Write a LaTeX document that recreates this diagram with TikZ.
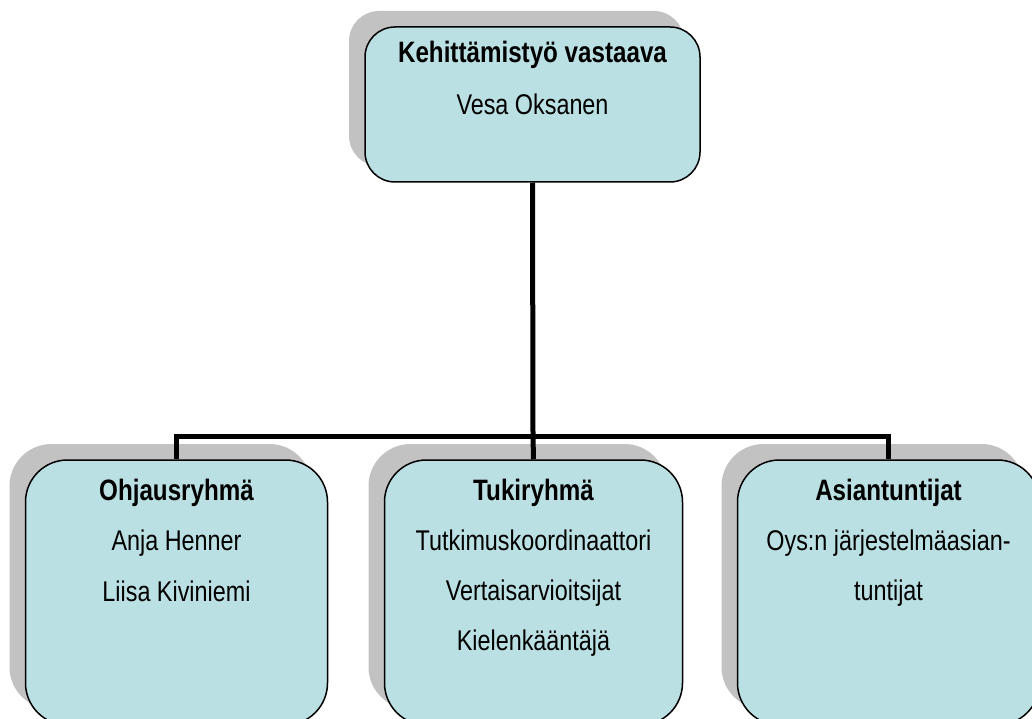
\documentclass[tikz,border=0pt]{standalone}
\usepackage{fontspec}
\setmainfont{Liberation Sans}[FakeStretch=0.82]
\usetikzlibrary{shadows,backgrounds}
\definecolor{boxfill}{HTML}{BBE0E3}
\tikzset{
  orgbox/.style={draw=black, line width=1.5pt, fill=boxfill, rectangle, rounded corners=#1,
    inner sep=0pt,
    drop shadow={shadow xshift=-16pt, shadow yshift=16pt, fill=black, opacity=0.24}},
  txt/.style={anchor=base, inner sep=0pt, font=\fontsize{28.5}{30}\selectfont},
  btxt/.style={txt, font=\fontsize{29.5}{30}\selectfont\bfseries},
  conn/.style={line width=5pt, draw=black}
}
\begin{document}
\begin{tikzpicture}[x=1pt, y=-1pt]
\useasboundingbox (0,0) rectangle (1032,719);
\clip (0,0) rectangle (1032,719);
% boxes
\node[orgbox=30pt, minimum width=335pt, minimum height=155pt] (top) at (532.5,104.5) {};
\node[orgbox=42pt, minimum width=302pt, minimum height=265pt] (b1) at (176.5,592.5) {};
\node[orgbox=42pt, minimum width=298pt, minimum height=265pt] (b2) at (533.5,592.5) {};
\node[orgbox=42pt, minimum width=302pt, minimum height=265pt] (b3) at (888.5,592.5) {};
% connectors
\begin{scope}[on background layer]
\coordinate (bus) at (533,436);
\draw[conn] (top.south) -- (bus);
\draw[conn] (b1.north) |- (bus) -| (b3.north);
\draw[conn] (bus) -- (b2.north);
\end{scope}
% texts
\node[btxt] (t1) at (532.5,63) {Kehittämistyö vastaava};
\node[txt]  (t2) at (532.5,115) {Vesa Oksanen};
\node[btxt] (l1) at (176.5,500) {Ohjausryhmä};
\node[txt]  (l2) at (176.5,550) {Anja Henner};
\node[txt]  (l3) at (176.5,601) {Liisa Kiviniemi};
\node[btxt] (m1) at (533.5,500) {Tukiryhmä};
\node[txt]  (m2) at (533.5,550) {Tutkimuskoordinaattori};
\node[txt]  (m3) at (533.5,600) {Vertaisarvioitsijat};
\node[txt]  (m4) at (533.5,650) {Kielenkääntäjä};
\node[btxt] (r1) at (888.5,500) {Asiantuntijat};
\node[txt]  (r2) at (888.5,550) {Oys:n järjestelmäasian-};
\node[txt]  (r3) at (888.5,600) {tuntijat};
\end{tikzpicture}
\end{document}
